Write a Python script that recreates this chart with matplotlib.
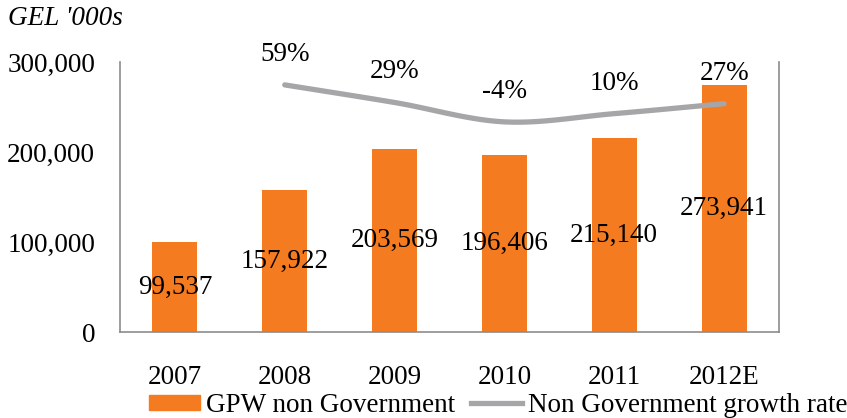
import numpy as np
import matplotlib.pyplot as plt
from matplotlib.patches import Patch
from matplotlib.lines import Line2D

plt.rcParams['font.family'] = ['Liberation Serif', 'DejaVu Serif']

years = ['2007', '2008', '2009', '2010', '2011', '2012E']
gpw = [99537, 157922, 203569, 196406, 215140, 273941]
growth_years = ['2008', '2009', '2010', '2011', '2012E']
growth = [59, 29, -4, 10, 27]

orange = '#F47B20'
grey = '#A6A6A8'
fs = 19.5


def smooth(x, y, n=30):
    # catmull-rom style smoothing like excel's smoothed line
    x = np.asarray(x, float)
    y = np.asarray(y, float)
    px = np.concatenate([[2 * x[0] - x[1]], x, [2 * x[-1] - x[-2]]])
    py = np.concatenate([[2 * y[0] - y[1]], y, [2 * y[-1] - y[-2]]])
    xs, ys = [], []
    t = np.linspace(0, 1, n)
    for i in range(1, len(px) - 2):
        for p, out in ((px, xs), (py, ys)):
            p0, p1, p2, p3 = p[i - 1], p[i], p[i + 1], p[i + 2]
            out.extend(0.5 * (2 * p1 + (-p0 + p2) * t
                              + (2 * p0 - 5 * p1 + 4 * p2 - p3) * t ** 2
                              + (-p0 + 3 * p1 - 3 * p2 + p3) * t ** 3))
    return np.array(xs), np.array(ys)


fig = plt.figure(figsize=(8.47, 4.18), dpi=100)
ax = fig.add_axes([0.1417, 0.2057, 0.7780, 0.6460])

x = np.arange(len(years))
bars = ax.bar(x, gpw, width=0.41, color=orange, zorder=2)
for xi, v in zip(x, gpw):
    ax.text(xi, v / 2, f'{v:,}', ha='center', va='center', fontsize=fs, zorder=5)

ax.set_xlim(-0.5, len(years) - 0.5)
ax.set_ylim(0, 300000)
ax.set_yticks([0, 100000, 200000, 300000])
ax.set_yticklabels([f'{v:,}' for v in [0, 100000, 200000, 300000]])
ax.set_xticks(x)
ax.set_xticklabels(years)
ax.tick_params(axis='y', length=0, pad=18, labelsize=fs)
ax.tick_params(axis='x', length=0, pad=24, labelsize=fs)
for s in ['left', 'right', 'bottom']:
    ax.spines[s].set_color('#8C8C8C')
    ax.spines[s].set_linewidth(1.2)
ax.spines['top'].set_visible(False)

ax2 = ax.twinx()
ax2.set_ylim(-362, 98)
ax2.axis('off')
gx = [years.index(g) for g in growth_years]
sx, sy = smooth(gx, growth)
ax2.plot(sx, sy, color=grey, lw=3.8, solid_capstyle='round', zorder=3)
for xi, v in zip(gx, growth):
    ax2.annotate(f'{v}%', (xi, v), xytext=(0, 13), textcoords='offset points',
                 ha='center', va='bottom', fontsize=fs)

fig.text(0.01, 0.955, "GEL '000s", fontsize=fs, style='italic', ha='left', va='center')

handles = [Patch(color=orange), Line2D([], [], color=grey, lw=3.8)]
fig.legend(handles, ['GPW non Government', 'Non Government growth rate'],
           loc='center', bbox_to_anchor=(0.588, 0.03), ncol=2, frameon=False,
           fontsize=fs, handlelength=1.9, handleheight=0.5, handletextpad=0.2,
           columnspacing=0.6, borderpad=0)

fig.savefig('out.png', dpi=100)
